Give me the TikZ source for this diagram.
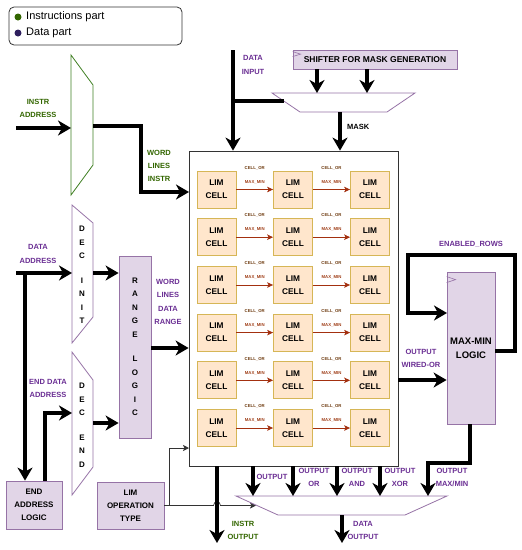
\documentclass[tikz,border=0pt]{standalone}
\usepackage{fontspec}
\setmainfont{Liberation Sans}
\usetikzlibrary{arrows.meta}
\definecolor{datatxt}{HTML}{6A2E93}
\definecolor{insttxt}{HTML}{336600}
\definecolor{instline}{HTML}{3F7F22}
\definecolor{boxfill}{HTML}{E1D5E7}
\definecolor{boxline}{HTML}{9673A6}
\definecolor{cellfill}{HTML}{FFE6CC}
\definecolor{cellline}{HTML}{D6B656}
\definecolor{cellarr}{HTML}{A3300F}
\definecolor{celltxt}{HTML}{6E3B10}
\definecolor{maxtxt}{HTML}{A0401A}
\definecolor{frame}{HTML}{333333}
\tikzset{
  bus/.style={line width=3.5pt,-{Stealth[length=13pt,width=15pt,inset=4pt]}},
  wire/.style={line width=3.5pt},
  thinarrow/.style={line width=0.7pt,draw=frame,-{Stealth[length=6pt,width=6pt,inset=1.5pt]}},
  cellarrow/.style={line width=0.8pt,draw=cellarr,-{Stealth[length=6pt,width=5.5pt,inset=1.5pt]}},
  purplebox/.style={draw=boxline,fill=boxfill,line width=0.8pt,inner sep=0pt,align=center,font=\bfseries\fontsize{8}{13}\selectfont},
  cellbox/.style={draw=cellline,fill=cellfill,line width=0.8pt,minimum width=39pt,minimum height=37pt,inner sep=0pt,align=center,font=\bfseries\fontsize{8.3}{13}\selectfont},
  datalbl/.style={text=datatxt,align=center,inner sep=0pt,font=\bfseries\fontsize{7.5}{13.3}\selectfont},
  instlbl/.style={datalbl,text=insttxt},
  declbl/.style={align=center,inner sep=0pt,font=\bfseries\fontsize{8}{13.5}\selectfont},
  tinylbl/.style={inner sep=0pt,font=\bfseries\fontsize{4.3}{5}\selectfont},
  trap/.style={draw=boxline,line width=0.8pt,fill=white},
  clockmark/.style={draw=boxline,line width=0.6pt}
}
\begin{document}
\begin{tikzpicture}[x=1pt,y=-1pt]
\useasboundingbox (0,0) rectangle (522,550);
% legend
\node[draw=frame,rounded corners=5pt,line width=0.8pt,minimum width=173pt,minimum height=38pt] (legend) at (95.5,26) {};
\node[circle,fill=insttxt,minimum size=7pt,inner sep=0pt] (dotinst) at (18,17) {};
\node[circle,fill={rgb,255:red,46;green,31;blue,94},minimum size=7pt,inner sep=0pt] (dotdata) at (18,33) {};
\node[anchor=west,inner sep=0pt,font=\fontsize{11}{13}\selectfont] (leginst) at (26,17) {Instructions part};
\node[anchor=west,inner sep=0pt,font=\fontsize{11}{13}\selectfont] (legdata) at (26,33) {Data part};

% instruction decoder
\draw[draw=instline,line width=0.8pt] (71,55)--(93,85)--(93,165)--(71,195)--cycle;
\coordinate (iasrc) at (16,128);
\coordinate (iaIn) at (71,128);
\coordinate (iaOut) at (93,126);
\node[instlbl] (ialbl) at (38,108.5) {INSTR\\ADDRESS};
\draw[bus] (iasrc) -- (iaIn);

% lim array
\node[draw=frame,line width=0.8pt,minimum width=209pt,minimum height=315pt,inner sep=0pt] (array) at (293.5,308.5) {};
\foreach \r/\y in {1/189.5,2/237.2,3/285,4/332.6,5/380.3,6/428}{
  \foreach \c/\x in {1/216.5,2/293,3/370}{
    \node[cellbox] (c\r\c) at (\x,\y) {LIM\\CELL};
  }
  \foreach \a/\b in {1/2,2/3}{
    \draw[cellarrow] (c\r\a) -- (c\r\b)
      node[midway,yshift=7.5pt,tinylbl,text=maxtxt] {MAX\_MIN}
      node[midway,yshift=21.5pt,tinylbl,text=celltxt] {CELL\_OR};
  }
}
\coordinate (wlI) at (189,192);
\draw[bus] (iaOut) -- (141,126) -- (141,192) -- (wlI);
\node[instlbl] (wlIlbl) at (159,166) {WORD\\LINES\\INSTR};

% data input and mask
\node[purplebox,minimum width=164pt,minimum height=19pt,font=\bfseries\fontsize{8.5}{10}\selectfont] (shifter) at (375,59.5) {SHIFTER FOR MASK GENERATION};
\draw[clockmark] ([yshift=-2pt]shifter.north west) -- ++(8,2.5) -- ++(-8,2.5);
\draw[trap] (272,93)--(415,93)--(387,112)--(300,112)--cycle;
\coordinate (mxA) at (317,93);
\coordinate (mxB) at (367,93);
\draw[bus] (shifter.south -| mxA) -- (mxA);
\draw[bus] (shifter.south -| mxB) -- (mxB);
\coordinate (maskOut) at (340,112);
\draw[bus] (maskOut) -- (array.north -| maskOut);
\node[anchor=west,inner sep=0pt,font=\bfseries\fontsize{7.5}{10}\selectfont] (masklbl) at (347,127) {MASK};
\coordinate (din) at (233,50);
\coordinate (dtap) at (233,101);
\coordinate (mxIn) at (284,101);
\draw[bus] (din) -- (array.north -| din);
\draw[wire] (dtap) -- (mxIn);
\node[datalbl] (dinlbl) at (253,65) {DATA\\INPUT};

% data decoders
\draw[trap] (72,205)--(93,223)--(93,317)--(72,343)--cycle;
\node[declbl] (decinit) at (82,275) {D\\E\\C\\[11pt]I\\N\\I\\T};
\draw[trap] (72,352)--(93,380)--(93,467)--(72,495)--cycle;
\node[declbl] (decend) at (82,425) {D\\E\\C\\[11pt]E\\N\\D};
\coordinate (dasrc) at (16,273);
\coordinate (daTap) at (25,273);
\coordinate (diIn) at (72,273);
\coordinate (diOut) at (93,273);
\coordinate (deIn) at (72,413);
\coordinate (deOut) at (93,423);
\draw[bus] (dasrc) -- (diIn);
\node[datalbl] (dalbl) at (38,254) {DATA\\ADDRESS};
\node[datalbl] (edalbl) at (48,388.5) {END DATA\\ADDRESS};

\node[purplebox,minimum width=32pt,minimum height=182pt,font=\bfseries\fontsize{8}{13.5}\selectfont] (range) at (135,347) {R\\A\\N\\G\\E\\[11pt]L\\O\\G\\I\\C};
\draw[bus] (diOut) -- (range.west |- diOut);
\draw[bus] (deOut) -- (range.west |- deOut);
\coordinate (wlD) at (151,348);
\draw[bus] (wlD) -- (array.west |- wlD);
\node[datalbl] (wlDlbl) at (168,302) {WORD\\LINES\\DATA\\RANGE};

\node[purplebox,minimum width=56pt,minimum height=48pt] (endlogic) at (34,505) {END\\ADDRESS\\LOGIC};
\draw[bus] (daTap) -- (endlogic.north -| daTap);
\coordinate (eaUp) at (45,413);
\draw[bus] (endlogic.north -| eaUp) -- (eaUp) -- (deIn);

% operation type
\node[purplebox,minimum width=67pt,minimum height=47pt] (optype) at (130.5,505.5) {LIM\\OPERATION\\TYPE};
\coordinate (opTap) at (169,505.5);
\coordinate (opArr) at (189,448);
\coordinate (omxIn) at (256,505.5);
\draw[thinarrow] (optype.east) -- (opTap) |- (opArr);
\draw[thinarrow] (opTap) -- (213.5,505.5) .. controls (213.5,500.5) and (220.5,500.5) .. (220.5,505.5) -- (omxIn);

% output mux
\draw[trap] (236,496)--(447,496)--(405,515)--(278,515)--cycle;
\foreach \x in {253,293,337,380}{
  \coordinate (oin\x) at (\x,496);
  \draw[bus] (array.south -| oin\x) -- (oin\x);
}
\node[datalbl] (o1lbl) at (272,477) {OUTPUT};
\node[datalbl] (o2lbl) at (314,477.5) {OUTPUT\\OR};
\node[datalbl] (o3lbl) at (357,477.5) {OUTPUT\\AND};
\node[datalbl] (o4lbl) at (400,477.5) {OUTPUT\\XOR};
\node[datalbl] (o5lbl) at (452,477.5) {OUTPUT\\MAX/MIN};
\coordinate (dout) at (342,515);
\coordinate (doutEnd) at (342,543);
\draw[bus] (dout) -- (doutEnd);
\node[datalbl] (doutlbl) at (363,530.5) {DATA\\OUTPUT};
\coordinate (iout) at (217,543);
\draw[bus] (array.south -| iout) -- (iout);
\node[instlbl] (ioutlbl) at (243,530.5) {INSTR\\OUTPUT};

% max-min logic
\node[purplebox,minimum width=48pt,minimum height=152pt,font=\bfseries\fontsize{9.5}{14}\selectfont] (maxmin) at (471,348) {MAX-MIN\\LOGIC};
\draw[clockmark] ([yshift=-5pt]maxmin.north west) -- ++(9,3) -- ++(-9,3);
\coordinate (enOut) at (495,351);
\coordinate (enIn) at (447,313);
\draw[bus] (enOut) -- (515,351) -- (515,255) -- (408,255) -- (408,313) -- (enIn);
\node[datalbl] (enlbl) at (471,244) {ENABLED\_ROWS};
\coordinate (wor) at (398,380);
\draw[bus] (wor) -- (maxmin.west |- wor);
\node[datalbl] (worlbl) at (421,358.5) {OUTPUT\\WIRED-OR};
\coordinate (mmOut) at (470,424);
\draw[bus] (mmOut) -- (470,463) -- (428,463) -- (oin380 -| 428,0);
\end{tikzpicture}
\end{document}
